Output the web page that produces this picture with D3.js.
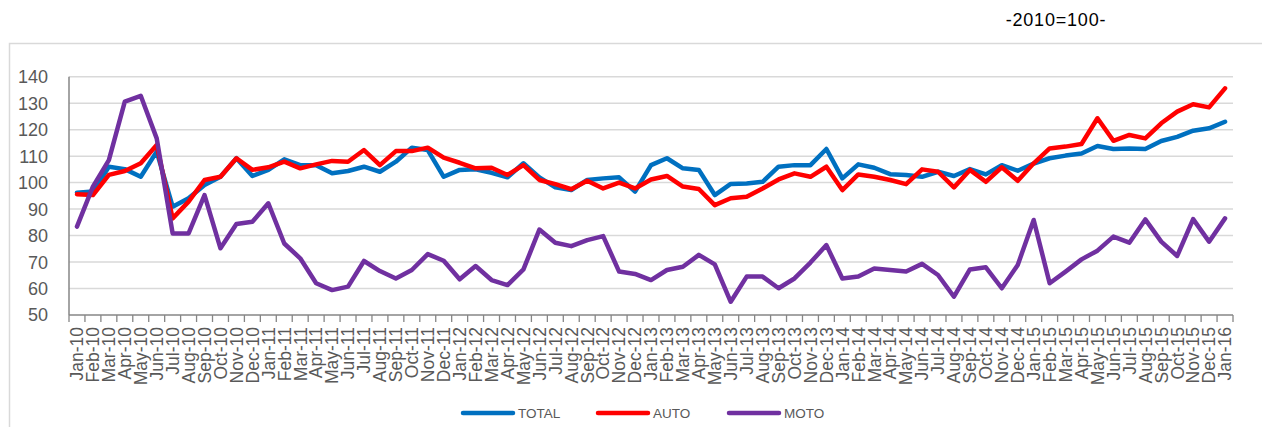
<!DOCTYPE html>
<html>
<head>
<meta charset="utf-8">
<script src="https://cdn.jsdelivr.net/npm/d3@7"></script>
<style>
  body { margin: 0; background: #fff; }
  text { font-family: "Liberation Sans", Arial, sans-serif; }
</style>
</head>
<body>
<script>
var months = ['Jan-10','Feb-10','Mar-10','Apr-10','May-10','Jun-10','Jul-10','Aug-10','Sep-10','Oct-10','Nov-10','Dec-10',
  'Jan-11','Feb-11','Mar-11','Apr-11','May-11','Jun-11','Jul-11','Aug-11','Sep-11','Oct-11','Nov-11','Dec-11',
  'Jan-12','Feb-12','Mar-12','Apr-12','May-12','Jun-12','Jul-12','Aug-12','Sep-12','Oct-12','Nov-12','Dec-12',
  'Jan-13','Feb-13','Mar-13','Apr-13','May-13','Jun-13','Jul-13','Aug-13','Sep-13','Oct-13','Nov-13','Dec-13',
  'Jan-14','Feb-14','Mar-14','Apr-14','May-14','Jun-14','Jul-14','Aug-14','Sep-14','Oct-14','Nov-14','Dec-14',
  'Jan-15','Feb-15','Mar-15','Apr-15','May-15','Jun-15','Jul-15','Aug-15','Sep-15','Oct-15','Nov-15','Dec-15',
  'Jan-16'];

var total = [96.2,96.6,106,105.1,102.2,111.7,90.9,94.1,99.1,102.2,109.2,102.5,
  104.8,108.8,106.6,106.6,103.5,104.4,106,104.1,107.9,113.2,112.3,102.2,
  104.8,105,103.7,102,107.3,102,98.2,97.2,101,101.6,102,96.6,
  106.6,109.2,105.4,104.8,95.3,99.5,99.7,100.3,106,106.6,106.6,112.7,
  101.6,106.9,105.6,103.2,102.9,102.2,104.1,102.5,105.1,103.1,106.6,104.5,
  107.2,109.2,110.2,111,113.8,112.7,112.9,112.7,115.7,117.3,119.6,120.5,
  123];

var auto = [95.6,95.3,102.9,104.4,107.3,114.2,86.5,92.8,101,102.2,109.2,104.8,
  105.8,107.9,105.4,106.9,108.2,107.9,112.3,106.6,111.9,111.9,113.2,109.4,
  107.5,105.4,105.6,102.9,106.6,101,99.4,97.5,100.7,97.8,100,97.8,
  101.2,102.5,98.5,97.6,91.5,94.1,94.7,97.8,101.2,103.5,102.2,106,
  97.2,103.1,102.2,101,99.4,105,104.1,98.2,104.8,100.3,105.8,100.7,
  107.3,112.9,113.6,114.6,124.3,115.8,118,116.7,122.4,126.8,129.6,128.4,
  135.6];

var moto = [83.4,98.5,108.5,130.6,132.8,116.7,80.8,80.8,95.3,75.2,84.4,85.2,
  92.2,77,71.4,62,59.4,60.7,70.4,66.6,63.8,67,73,70.5,
  63.5,68.5,63.2,61.3,67.2,82.3,77.3,76,78.3,79.8,66.4,65.5,
  63.2,67,68.2,72.7,69.1,55,64.5,64.5,60.1,63.8,69.8,76.4,
  63.8,64.5,67.6,67,66.4,69.3,65.1,56.9,67.2,68,60.1,68.9,
  85.9,62,66.4,71,74.3,79.6,77.3,86.1,77.7,72.3,86.2,77.7,
  86.5];

var seriesNames = ['TOTAL', 'AUTO', 'MOTO'];
var seriesColors = ['#0070C0', '#FF0000', '#7030A0'];
var yTicks = [50, 60, 70, 80, 90, 100, 110, 120, 130, 140];

var svg = d3.select('body').append('svg')
  .attr('width', 1262)
  .attr('height', 427);

// chart frame
svg.append('rect')
  .attr('x', 9.5).attr('y', 43.5)
  .attr('width', 1300).attr('height', 420)
  .attr('fill', 'none')
  .attr('stroke', '#d9d9d9')
  .attr('stroke-width', 1.5);

// title
svg.append('text')
  .attr('x', 1056).attr('y', 26)
  .attr('text-anchor', 'middle')
  .attr('font-size', 18)
  .attr('letter-spacing', 0.8)
  .attr('fill', '#000')
  .text('-2010=100-');

// plot box (note: "top" is reserved on window)
var plotLeft = 69, plotRight = 1233, plotTop = 76.7, plotBottom = 315;

var x = d3.scaleBand().domain(months).range([plotLeft, plotRight]);
var y = d3.scaleLinear().domain([50, 140]).range([plotBottom, plotTop]);
var cx = function(d) { return x(d) + x.bandwidth() / 2; };

// gridlines
svg.selectAll('.grid')
  .data(yTicks.slice(1))
  .enter()
    .append('line')
    .attr('x1', plotLeft).attr('x2', plotRight)
    .attr('y1', function(d) { return y(d); })
    .attr('y2', function(d) { return y(d); })
    .attr('stroke', '#d9d9d9')
    .attr('stroke-width', 1.5);

// y labels
svg.selectAll('.ylab')
  .data(yTicks)
  .enter()
    .append('text')
    .attr('x', 48)
    .attr('y', function(d) { return y(d); })
    .attr('dy', '0.36em')
    .attr('text-anchor', 'end')
    .attr('font-size', 18)
    .attr('fill', '#595959')
    .text(function(d) { return d; });

// axis lines
svg.append('line')
  .attr('x1', plotLeft).attr('x2', plotLeft)
  .attr('y1', plotTop).attr('y2', plotBottom)
  .attr('stroke', '#868686').attr('stroke-width', 1.5);
svg.append('line')
  .attr('x1', plotLeft).attr('x2', plotRight)
  .attr('y1', plotBottom).attr('y2', plotBottom)
  .attr('stroke', '#868686').attr('stroke-width', 1.5);

// ticks between categories
var bounds = months.map(function(d) { return x(d); }).concat([plotRight]);
svg.selectAll('.tick')
  .data(bounds)
  .enter()
    .append('line')
    .attr('x1', function(d) { return d; })
    .attr('x2', function(d) { return d; })
    .attr('y1', plotBottom).attr('y2', plotBottom + 7)
    .attr('stroke', '#868686').attr('stroke-width', 1.3);

// x labels
svg.selectAll('.xlab')
  .data(months)
  .enter()
    .append('text')
    .attr('transform', function(d) { return 'translate(' + cx(d) + ',' + (plotBottom + 12) + ') rotate(-90)'; })
    .attr('dy', '0.36em')
    .attr('text-anchor', 'end')
    .attr('font-size', 17.5)
    .attr('fill', '#595959')
    .text(function(d) { return d; });

// lines
var line = d3.line()
  .x(function(d, i) { return cx(months[i]); })
  .y(function(d) { return y(d); });

var allSeries = [total, auto, moto];
svg.selectAll('.series')
  .data(allSeries)
  .enter()
    .append('path')
    .attr('d', line)
    .attr('fill', 'none')
    .attr('stroke', function(d, i) { return seriesColors[i]; })
    .attr('stroke-width', 4.5)
    .attr('stroke-linejoin', 'round')
    .attr('stroke-linecap', 'round');

// legend
var legendX = [461, 596, 727];
var legend = svg.selectAll('.legend')
  .data(seriesNames)
  .enter()
    .append('g')
    .attr('transform', function(d, i) { return 'translate(' + legendX[i] + ',413)'; });

legend.append('line')
  .attr('x1', 2).attr('x2', 52)
  .attr('stroke', function(d, i) { return seriesColors[i]; })
  .attr('stroke-width', 4.5)
  .attr('stroke-linecap', 'round');

legend.append('text')
  .attr('x', 57)
  .attr('dy', '0.36em')
  .attr('font-size', 13.5)
  .attr('fill', '#595959')
  .text(function(d) { return d; });
</script>
</body>
</html>
